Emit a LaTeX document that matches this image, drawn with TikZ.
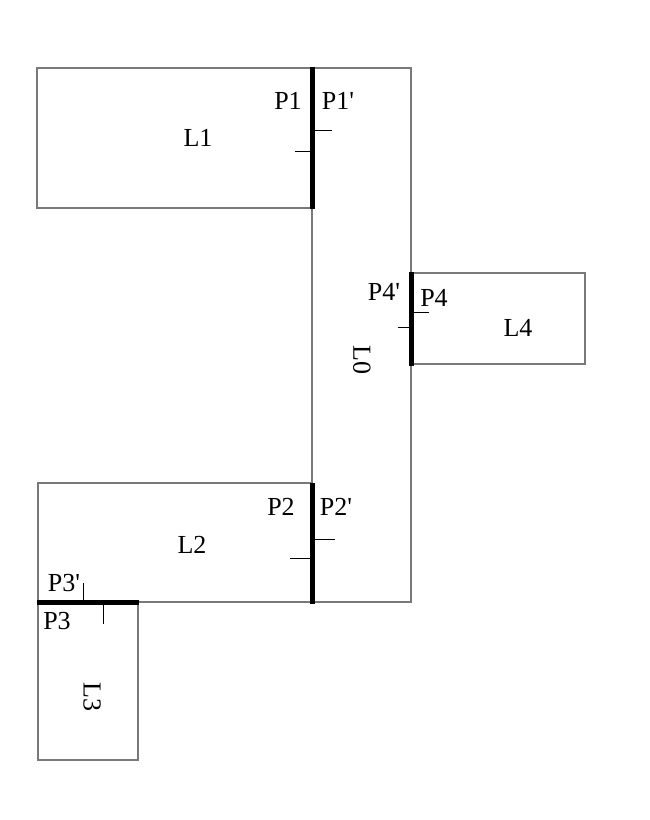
\documentclass[tikz,border=0pt]{standalone}
\usepackage{fontspec}
\setmainfont{Liberation Serif}
\newcommand{\pr}{\textquotesingle}
\begin{document}
\begin{tikzpicture}[x=1pt,y=-1pt,
  wall/.style={draw=gray!95!black,line width=2pt},
  joint/.style={draw=black,line width=5pt},
  tick/.style={draw=black,line width=1pt},
  lbl/.style={font=\fontsize{26}{30}\selectfont,inner sep=0pt}]
\useasboundingbox (0,0) rectangle (650,820);
% outlines
\draw[wall] (37,68) rectangle (312,208);
\draw[wall] (312,68) -- (411,68) -- (411,602) -- (38,602);
\draw[wall] (312,208) -- (312,483);
\draw[wall] (38,483) rectangle (312,602);
\draw[wall] (38,602) rectangle (138,760);
\draw[wall] (411,273) rectangle (585,364);
% joints
\draw[joint] (312,67) -- (312,209);
\draw[joint] (312,483) -- (312,604);
\draw[joint] (37,602) -- (139,602);
\draw[joint] (411,272) -- (411,366);
% ticks
\draw[tick] (314,130) -- (332,130);
\draw[tick] (295,151) -- (310,151);
\draw[tick] (315,539) -- (335,539);
\draw[tick] (290,558) -- (310,558);
\draw[tick] (413,312) -- (429,312);
\draw[tick] (398,327) -- (410,327);
\draw[tick] (83,583) -- (83,600);
\draw[tick] (103,604) -- (103,624);
% labels
\node[lbl] (p1) at (288,101) {P1};
\node[lbl] (p1p) at (338,101) {P1\pr};
\node[lbl] (l1) at (198,138) {L1};
\node[lbl] (p4p) at (384,292) {P4\pr};
\node[lbl] (p4) at (434,298) {P4};
\node[lbl] (l4) at (518,328) {L4};
\node[lbl,rotate=-90] (l0) at (362,360) {L0};
\node[lbl] (p2) at (281,507) {P2};
\node[lbl] (p2p) at (336,507) {P2\pr};
\node[lbl] (l2) at (192,545) {L2};
\node[lbl] (p3p) at (64,583) {P3\pr};
\node[lbl] (p3) at (57,621) {P3};
\node[lbl,rotate=-90] (l3) at (92,697) {L3};
\end{tikzpicture}
\end{document}
